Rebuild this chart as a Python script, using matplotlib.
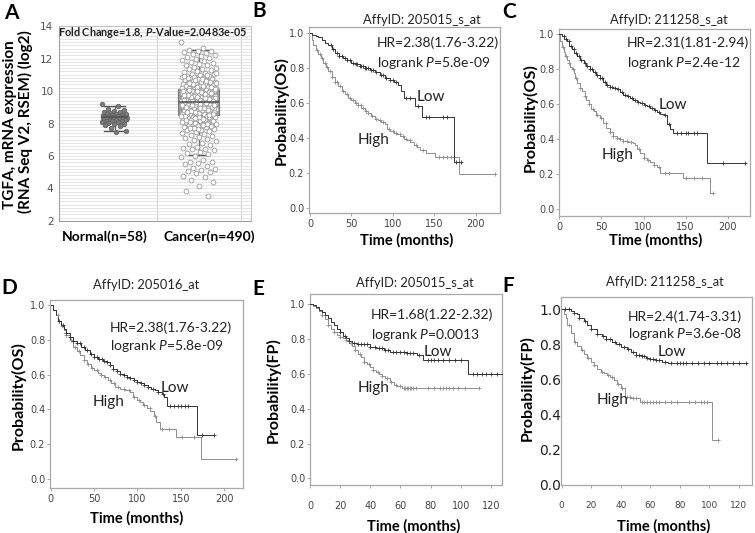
import numpy as np
import matplotlib.pyplot as plt

plt.rcParams["font.family"] = ["Lato", "DejaVu Sans"]
plt.rcParams["mathtext.fontset"] = "custom"
plt.rcParams["mathtext.rm"] = "Lato"
plt.rcParams["mathtext.it"] = "Lato:italic"
plt.rcParams["mathtext.bf"] = "Lato:bold"
plt.rcParams["mathtext.bfit"] = "Lato:italic:bold"

W, H = 755, 533

# ---------------- panel A: TGFA expression ----------------
groups = ["Normal(n=58)", "Cancer(n=490)"]
normal_expr = [9.2, 9.1, 8.92, 8.83, 8.76, 8.71, 8.68, 8.64, 8.61, 8.58, 8.56, 8.53, 8.51,
               8.49, 8.47, 8.45, 8.43, 8.42, 8.4, 8.39, 8.37, 8.36, 8.34, 8.33, 8.31, 8.3,
               8.28, 8.26, 8.24, 8.22, 8.2, 8.18, 8.16, 8.13, 8.1, 8.07, 8.04, 8.0, 7.96,
               7.9, 7.82, 7.71, 7.56, 7.45]
cancer_expr = [13.0, 12.62, 12.55, 12.48, 12.44, 12.37, 12.31, 12.27, 12.22, 12.18, 12.09,
               12.03, 11.96, 11.91, 11.84, 11.79, 11.73, 11.66, 11.62, 11.57, 11.49, 11.43,
               11.38, 11.33, 11.27, 11.21, 11.16, 11.12, 11.07, 11.03, 10.98, 10.95, 10.91,
               10.88, 10.84, 10.81, 10.77, 10.74, 10.71, 10.68, 10.64, 10.61, 10.58, 10.55,
               10.52, 10.49, 10.46, 10.43, 10.41, 10.38, 10.35, 10.32, 10.29, 10.27, 10.24,
               10.21, 10.19, 10.16, 10.13, 10.11, 10.08, 10.05, 10.03, 10.0, 9.97, 9.95,
               9.92, 9.9, 9.87, 9.85, 9.82, 9.8, 9.77, 9.75, 9.72, 9.7, 9.68, 9.65, 9.63,
               9.6, 9.58, 9.56, 9.53, 9.51, 9.49, 9.46, 9.44, 9.42, 9.39, 9.37, 9.35, 9.33,
               9.3, 9.28, 9.26, 9.24, 9.21, 9.19, 9.17, 9.15, 9.12, 9.1, 9.08, 9.06, 9.03,
               9.01, 8.99, 8.96, 8.94, 8.92, 8.9, 8.87, 8.85, 8.83, 8.8, 8.78, 8.76, 8.73,
               8.71, 8.69, 8.66, 8.64, 8.62, 8.59, 8.57, 8.54, 8.52, 8.5, 8.47, 8.44, 8.42,
               8.39, 8.36, 8.34, 8.31, 8.28, 8.25, 8.22, 8.19, 8.16, 8.13, 8.1, 8.06, 8.03,
               7.99, 7.96, 7.92, 7.88, 7.85, 7.81, 7.77, 7.72, 7.68, 7.63, 7.58, 7.53, 7.48,
               7.42, 7.37, 7.31, 7.25, 7.18, 7.12, 7.05, 6.98, 6.91, 6.83, 6.74, 6.66, 6.57,
               6.51, 6.46, 6.41, 6.35, 6.27, 6.19, 6.1, 6.02, 5.93, 5.78, 5.66, 5.61, 5.55,
               5.49, 5.38, 5.29, 5.2, 5.12, 5.05, 4.99, 4.93, 4.78, 4.68, 4.52, 4.42, 4.18,
               3.82, 3.52,
               10.86, 10.52, 10.33, 10.07, 9.88, 9.66, 9.47, 9.29, 9.11, 8.93, 8.74, 8.56,
               8.37, 10.69, 10.18, 9.79, 9.38, 9.02, 8.67, 8.45, 10.96, 10.39, 9.57, 8.82,
               10.79, 10.57, 10.26, 10.02, 9.83, 9.61, 9.41, 9.22, 9.04, 8.86, 8.68, 8.48,
               8.27, 8.08, 7.87, 7.64, 10.93, 10.63, 10.44, 10.14, 9.93, 9.74, 9.52, 9.34,
               9.16, 8.97, 8.79, 8.61, 8.41, 8.21, 7.98, 7.74, 11.09, 10.72, 10.47, 10.22,
               9.99, 9.78, 9.55, 9.36, 9.14, 8.95, 8.72, 8.53, 8.33, 8.12, 7.91, 7.7]
box_med = [8.4, 9.3]
box_q1 = [8.15, 8.5]
box_q3 = [8.6, 10.15]
box_lo = [7.55, 6.05]
box_hi = [9.1, 12.5]

# ---------------- Kaplan-Meier curves (time in months, survival) ----------------
b_low_t = [0, 3, 7, 10, 14, 18, 22, 26, 30, 35, 40, 45, 50, 55, 60, 66, 72, 78, 84, 90,
           96, 101, 106, 110, 113, 127, 135, 174, 182]
b_low_s = [1.0, 0.99, 0.985, 0.975, 0.96, 0.945, 0.93, 0.91, 0.885, 0.87, 0.855, 0.845,
           0.83, 0.82, 0.81, 0.8, 0.79, 0.775, 0.76, 0.74, 0.73, 0.72, 0.7, 0.67, 0.63,
           0.58, 0.52, 0.26, 0.26]
b_low_c = [25, 28, 32, 35, 38, 42, 45, 48, 52, 55, 57, 60, 62, 64, 66, 68, 70, 73, 76,
           80, 85, 88, 92, 96, 100, 104, 116, 120, 130, 140, 143, 160, 165, 176, 182]
b_high_t = [0, 2, 4, 7, 10, 13, 16, 19, 22, 26, 30, 34, 38, 42, 46, 50, 54, 58, 62, 66,
            70, 74, 78, 82, 86, 90, 93, 97, 101, 105, 109, 113, 117, 121, 125, 129, 133,
            140, 151, 179, 223]
b_high_s = [1.0, 0.96, 0.93, 0.9, 0.88, 0.855, 0.83, 0.805, 0.78, 0.75, 0.72, 0.695,
            0.67, 0.65, 0.63, 0.615, 0.6, 0.585, 0.57, 0.555, 0.54, 0.525, 0.51, 0.5,
            0.49, 0.48, 0.45, 0.44, 0.43, 0.42, 0.41, 0.395, 0.385, 0.375, 0.36, 0.345,
            0.33, 0.315, 0.29, 0.195, 0.195]
b_high_c = [8, 12, 15, 18, 21, 24, 27, 30, 33, 36, 40, 44, 48, 52, 55, 58, 61, 64, 67,
            70, 75, 80, 84, 88, 95, 100, 104, 108, 112, 116, 120, 128, 136, 155, 160,
            165, 170, 223]

c_low_t = [0, 3, 6, 9, 12, 15, 18, 21, 25, 29, 32, 36, 40, 44, 48, 52, 56, 60, 64, 68,
           72, 76, 80, 84, 88, 92, 96, 100, 104, 108, 112, 116, 120, 124, 128, 132, 135,
           175, 221]
c_low_s = [1.0, 0.99, 0.975, 0.96, 0.935, 0.915, 0.895, 0.875, 0.855, 0.835, 0.82, 0.8,
           0.785, 0.77, 0.75, 0.73, 0.71, 0.7, 0.695, 0.685, 0.67, 0.655, 0.645, 0.635,
           0.625, 0.615, 0.605, 0.595, 0.59, 0.58, 0.57, 0.555, 0.545, 0.54, 0.49, 0.46,
           0.435, 0.265, 0.265]
c_low_c = [5, 8, 11, 14, 17, 20, 23, 26, 30, 33, 36, 39, 42, 45, 48, 51, 54, 57, 60, 63,
           66, 70, 74, 78, 82, 86, 90, 94, 98, 102, 106, 110, 114, 118, 125, 130, 140,
           145, 150, 153, 160, 163, 195, 221]
c_high_t = [0, 1, 3, 5, 7, 9, 11, 13, 15, 17, 19, 21, 24, 27, 30, 32, 35, 38, 41, 44, 48,
            52, 56, 60, 64, 68, 72, 76, 82, 88, 90, 92, 96, 100, 104, 108, 112, 116, 120,
            147, 179, 183]
c_high_s = [1.0, 0.96, 0.93, 0.9, 0.875, 0.855, 0.835, 0.815, 0.8, 0.78, 0.75, 0.72,
            0.695, 0.675, 0.645, 0.625, 0.6, 0.575, 0.56, 0.54, 0.52, 0.495, 0.465, 0.44,
            0.42, 0.41, 0.4, 0.39, 0.385, 0.38, 0.365, 0.345, 0.32, 0.295, 0.28, 0.27,
            0.255, 0.24, 0.21, 0.18, 0.095, 0.095]
c_high_c = [4, 8, 12, 16, 20, 25, 30, 35, 40, 45, 50, 55, 60, 64, 68, 72, 76, 80, 85, 95,
            100, 105, 112, 118, 125, 130, 150, 160, 170, 183]

d_low_t = [0, 3, 6, 9, 12, 15, 18, 22, 26, 30, 35, 40, 45, 50, 55, 60, 65, 68, 72, 76,
           80, 84, 88, 92, 96, 100, 104, 108, 112, 116, 120, 124, 128, 131, 134, 169, 188]
d_low_s = [1.0, 0.97, 0.94, 0.91, 0.885, 0.86, 0.84, 0.815, 0.795, 0.78, 0.76, 0.74,
           0.72, 0.7, 0.69, 0.68, 0.67, 0.655, 0.635, 0.62, 0.605, 0.595, 0.585, 0.578,
           0.57, 0.56, 0.55, 0.54, 0.53, 0.52, 0.51, 0.5, 0.49, 0.47, 0.42, 0.25, 0.25]
d_low_c = [10, 14, 18, 22, 26, 30, 34, 38, 42, 46, 50, 53, 56, 59, 62, 65, 68, 72, 76,
           80, 84, 88, 92, 96, 100, 104, 108, 112, 118, 124, 130, 138, 142, 147, 150,
           155, 158, 174, 188]
d_high_t = [0, 3, 6, 9, 12, 15, 18, 22, 26, 30, 34, 38, 42, 46, 50, 54, 58, 62, 66, 70,
            74, 80, 86, 92, 95, 99, 103, 107, 111, 115, 119, 122, 126, 130, 145, 173, 214]
d_high_s = [1.0, 0.97, 0.94, 0.91, 0.88, 0.855, 0.83, 0.8, 0.76, 0.735, 0.71, 0.685,
            0.66, 0.64, 0.625, 0.61, 0.6, 0.585, 0.57, 0.55, 0.53, 0.52, 0.51, 0.5, 0.47,
            0.455, 0.44, 0.425, 0.41, 0.39, 0.36, 0.33, 0.29, 0.285, 0.24, 0.115, 0.115]
d_high_c = [8, 13, 18, 23, 28, 33, 38, 43, 48, 53, 58, 63, 68, 73, 78, 84, 90, 96, 102,
            108, 114, 120, 128, 136, 152, 165, 214]

e_low_t = [0, 2, 4, 6, 8, 10, 12, 14, 16, 18, 20, 22, 24, 26, 28, 31, 35, 40, 44, 49, 53,
           57, 64, 71, 75, 105, 128]
e_low_s = [1.0, 0.995, 0.985, 0.97, 0.955, 0.94, 0.92, 0.9, 0.88, 0.86, 0.84, 0.82,
           0.805, 0.79, 0.78, 0.775, 0.77, 0.757, 0.747, 0.737, 0.728, 0.724, 0.718, 0.71,
           0.68, 0.6, 0.6]
e_low_c = [20, 23, 26, 29, 32, 34, 36, 38, 40, 43, 46, 48, 50, 52, 55, 57, 60, 62, 64,
           66, 68, 72, 78, 80, 82, 85, 88, 92, 96, 100, 108, 111, 114, 117, 120, 124, 128]
e_high_t = [0, 2, 4, 6, 8, 10, 12, 14, 16, 18, 20, 22, 24, 26, 28, 30, 32, 34, 36, 38,
            40, 42, 44, 46, 48, 50, 53, 56, 58, 61, 112]
e_high_s = [1.0, 0.99, 0.977, 0.96, 0.94, 0.915, 0.88, 0.86, 0.84, 0.825, 0.815, 0.805,
            0.795, 0.78, 0.76, 0.74, 0.715, 0.695, 0.67, 0.655, 0.64, 0.625, 0.613, 0.6,
            0.59, 0.575, 0.556, 0.536, 0.53, 0.521, 0.521]
e_high_c = [8, 12, 16, 20, 24, 27, 30, 33, 36, 39, 42, 45, 48, 51, 54, 57, 60, 62, 63,
            64, 65, 66, 67, 68, 70, 78, 82, 86, 88, 90, 92, 95, 98, 103, 112]

f_low_t = [0, 3, 6, 8, 10, 12, 15, 17, 20, 24, 27, 30, 34, 37, 40, 44, 47, 50, 54, 57,
           60, 64, 68, 72, 75, 125]
f_low_s = [1.0, 1.0, 0.99, 0.98, 0.97, 0.95, 0.93, 0.91, 0.885, 0.86, 0.845, 0.83,
           0.815, 0.8, 0.785, 0.77, 0.755, 0.74, 0.73, 0.72, 0.715, 0.71, 0.7, 0.695,
           0.69, 0.69]
f_low_c = [2, 5, 8, 12, 16, 20, 24, 28, 30, 33, 36, 39, 42, 45, 48, 50, 52, 54, 56, 58,
           60, 62, 64, 66, 70, 74, 78, 80, 82, 84, 88, 92, 96, 100, 105, 108, 112, 116,
           120, 125]
f_high_t = [0, 1.5, 2.7, 3.8, 6.1, 8.3, 10.5, 12.8, 15, 17.3, 19.5, 21.8, 24, 26.3, 28.5,
            30.8, 33, 35.3, 37.5, 39.8, 43.1, 46.5, 53.3, 101.6, 106]
f_high_s = [1.0, 0.97, 0.948, 0.91, 0.863, 0.815, 0.79, 0.767, 0.745, 0.72, 0.7, 0.68,
            0.66, 0.643, 0.633, 0.624, 0.61, 0.595, 0.57, 0.548, 0.5, 0.49, 0.47, 0.25,
            0.25]
f_high_c = [5, 9, 14, 18, 22, 27, 31, 34, 38, 41, 44, 46, 48, 50, 54, 56, 58, 60, 62, 64,
            66, 70, 74, 78, 86, 90, 94, 96, 98, 106]

fig = plt.figure(figsize=(W / 100, H / 100), dpi=100)


def axes_px(left, top, right, bottom):
    return fig.add_axes([left / W, 1 - bottom / H, (right - left) / W, (bottom - top) / H])


def ftext(x, y, s, **kw):
    fig.text(x / W, 1 - y / H, s, **kw)


LOW = "#333333"
HIGH = "#8e8e8e"


def km(ax, t, s, cens, color):
    t = np.asarray(t, float)
    s = np.asarray(s, float)
    ax.step(t, s, where="post", color=color, lw=0.7, zorder=3)
    c = np.asarray(cens, float)
    idx = np.searchsorted(t, c, side="right") - 1
    ax.plot(c, s[idx], "+", color=color, ms=3.2, mew=0.6, zorder=4)


def km_axes(box, xlim, ylim, xticks, big_y=False, xpad=1.5):
    ax = axes_px(*box)
    ax.set_xlim(*xlim)
    ax.set_ylim(*ylim)
    ax.set_xticks(xticks)
    ax.set_yticks(np.arange(0, 1.01, 0.2))
    ax.set_yticklabels(["%.1f" % v for v in np.arange(0, 1.01, 0.2)])
    for sp in ax.spines.values():
        sp.set_color("#a8a8a8")
        sp.set_linewidth(0.9)
    ax.tick_params(axis="x", direction="out", length=2.5, width=0.6, color="#999999",
                   labelsize=7, labelcolor="#444444", pad=xpad)
    ax.tick_params(axis="y", direction="out", length=2.5, width=0.6, color="#999999",
                   labelsize=7, labelcolor="#444444", pad=1)
    for lab in ax.get_xticklabels() + ax.get_yticklabels():
        lab.set_family("DejaVu Sans")
    if big_y:
        ax.tick_params(axis="y", length=0, labelsize=10, labelcolor="#222222", pad=0)
        ax.tick_params(axis="x", labelsize=6.5)
    return ax


# ---------------- panel A ----------------
axA = axes_px(59, 26, 251, 221)

stats = []
for i in range(2):
    stats.append(dict(med=box_med[i], q1=box_q1[i], q3=box_q3[i],
                      whislo=box_lo[i], whishi=box_hi[i], fliers=[]))
bp = axA.bxp(stats, positions=[0, 1], widths=[0.33, 0.49], capwidths=[0.24, 0.24],
             patch_artist=True, showfliers=False, zorder=2, manage_ticks=False,
             boxprops=dict(facecolor="#9d9d9d", edgecolor="#7a7a7a", lw=0.8),
             medianprops=dict(color="#555555", lw=1.2),
             whiskerprops=dict(color="#666666", lw=0.9),
             capprops=dict(color="#555555", lw=1.0))
for m in bp["medians"]:
    m.set_zorder(5)

# strip-plot jitter (layout only)
n0 = len(normal_expr)
jit0 = ((np.arange(n0) * 0.618034) % 1 - 0.5) * 0.3
axA.scatter(0 + jit0, normal_expr, s=11, facecolor="#7a7a7a", edgecolor="#5e5e5e",
            lw=0.5, zorder=3)
n1 = len(cancer_expr)
jit1 = ((np.arange(n1) * 0.618034) % 1 - 0.5) * 0.42
axA.scatter(1 + jit1, cancer_expr, s=12, facecolor="white", edgecolor="#9a9a9a",
            lw=0.6, zorder=3)

axA.set_xlim(-0.66, 1.62)
axA.set_ylim(2, 14)
axA.set_yticks(np.arange(2, 15, 2))
axA.set_yticks(np.arange(2, 14.01, 0.2), minor=True)
axA.grid(which="both", axis="y", color="#e2e2e2", lw=0.6, zorder=0)
axA.set_axisbelow(True)
for xv in [0.5, 1.5]:
    axA.axvline(xv, color="#d4d4d4", lw=0.8, zorder=0)
axA.set_xticks([])
axA.tick_params(axis="y", which="both", length=0, labelsize=7.5, labelcolor="#555555", pad=4)
for lab in axA.get_yticklabels():
    lab.set_family("DejaVu Sans")
for sp in axA.spines.values():
    sp.set_color("#c4c4c4")
axA.spines["left"].set_color("#a0a0a0")
axA.spines["bottom"].set_color("#a0a0a0")

ftext(153, 33, "Fold Change=1.8, $\\mathbfit{P}$-Value=2.0483e-05", fontsize=7.8,
      fontweight="bold", ha="center", va="center", color="#222222")
ftext(105, 237, groups[0], fontsize=10, fontweight="bold", ha="center", va="center")
ftext(209, 237, groups[1], fontsize=10, fontweight="bold", ha="center", va="center")
ftext(10, 125, "TGFA, mRNA expression", fontsize=11, fontweight="bold", rotation=90,
      ha="center", va="center")
ftext(25, 122, "(RNA Seq V2, RSEM) (log2)", fontsize=11, fontweight="bold", rotation=90,
      ha="center", va="center")

# ---------------- KM panels ----------------
panels = [
    dict(box=(309, 27, 500, 213), xlim=(-1.2, 229), ylim=(-0.03, 1.034),
         xticks=[0, 50, 100, 150, 200],
         low=(b_low_t, b_low_s, b_low_c), high=(b_high_t, b_high_s, b_high_c)),
    dict(box=(559, 29, 750, 216), xlim=(-0.4, 226.5), ylim=(-0.038, 1.03),
         xticks=[0, 50, 100, 150, 200],
         low=(c_low_t, c_low_s, c_low_c), high=(c_high_t, c_high_s, c_high_c)),
    dict(box=(50, 300, 243, 488), xlim=(-0.8, 221.8), ylim=(-0.052, 1.029),
         xticks=[0, 50, 100, 150, 200],
         low=(d_low_t, d_low_s, d_low_c), high=(d_high_t, d_high_s, d_high_c)),
    dict(box=(310, 294, 502, 485), xlim=(0, 127.3), ylim=(-0.038, 1.06),
         xticks=[0, 20, 40, 60, 80, 100, 120], xpad=9,
         low=(e_low_t, e_low_s, e_low_c), high=(e_high_t, e_high_s, e_high_c)),
    dict(box=(561, 297, 752, 485), xlim=(-0.5, 128.8), ylim=(-0.005, 1.07),
         xticks=[0, 20, 40, 60, 80, 100, 120], xpad=9, big_y=True,
         low=(f_low_t, f_low_s, f_low_c), high=(f_high_t, f_high_s, f_high_c)),
]
for p in panels:
    ax = km_axes(p["box"], p["xlim"], p["ylim"], p["xticks"], p.get("big_y", False),
                 p.get("xpad", 1.5))
    km(ax, *p["high"], HIGH)
    km(ax, *p["low"], LOW)

# titles, stats and labels
titles = [(422, 20, "AffyID: 205015_s_at"), (669, 20, "AffyID: 211258_s_at"),
          (146, 285, "AffyID: 205016_at"), (415, 283, "AffyID: 205015_s_at"),
          (665, 282, "AffyID: 211258_s_at")]
for x, y, s in titles:
    ftext(x, y, s, fontsize=9.3, ha="center", va="center", color="#222222")

hr_texts = [(377, 43, 63, "HR=2.38(1.76-3.22)", "logrank $P$=5.8e-09"),
            (627, 43, 63, "HR=2.31(1.81-2.94)", "logrank $P$=2.4e-12"),
            (110, 328, 346, "HR=2.38(1.76-3.22)", "logrank $P$=5.8e-09"),
            (371, 315, 335, "HR=1.68(1.22-2.32)", "logrank $P$=0.0013"),
            (628, 317, 334, "HR=2.4(1.74-3.31)", "logrank $P$=3.6e-08")]
for x, y1, y2, s1, s2 in hr_texts:
    ftext(x, y1, s1, fontsize=10, ha="left", va="center", color="#222222")
    ftext(x, y2, s2, fontsize=10, ha="left", va="center", color="#222222")

group_labels = [(431, 97, 374, 140), (673, 105, 618, 155), (175, 388, 109, 402),
                (438, 352, 374, 388), (672, 352, 613, 400)]
for xl, yl, xh, yh in group_labels:
    ftext(xl, yl, "Low", fontsize=11, ha="center", va="center", color="#222222")
    ftext(xh, yh, "High", fontsize=11, ha="center", va="center", color="#222222")

ylabels = [(281, 111, "Probability(OS)"), (530, 118, "Probability(OS)"),
           (18, 396, "Probability(OS)"), (273, 390, "Probability(FP)"),
           (527, 388, "Probability(FP)")]
for x, y, s in ylabels:
    ftext(x, y, s, fontsize=11.5, fontweight="bold", rotation=90, ha="center", va="center")

xlabels = [(407, 240), (656, 240), (137, 518), (414, 526), (664, 526)]
for x, y in xlabels:
    ftext(x, y, "Time (months)", fontsize=10.5, fontweight="bold", ha="center", va="center")

letters = [(11, 13, "A"), (259, 11, "B"), (509, 12, "C"), (9, 288, "D"), (258, 289, "E"),
           (508, 286, "F")]
for x, y, s in letters:
    ftext(x, y, s, fontsize=15, fontweight="bold", ha="center", va="center")

fig.savefig("out.png", dpi=100)
